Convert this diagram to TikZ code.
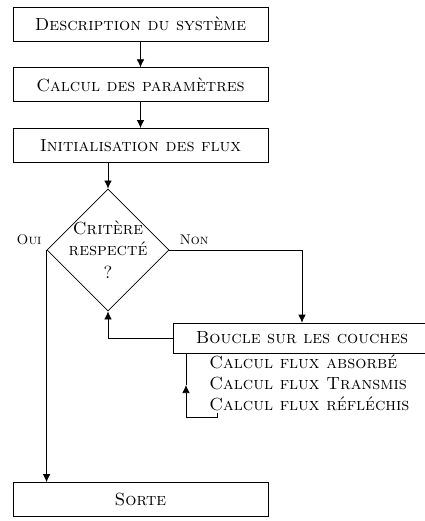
\documentclass[tikz,border=0pt]{standalone}
\usepackage{tikz}
\usetikzlibrary{arrows.meta,calc,positioning,shapes.geometric}

\begin{document}
\begin{tikzpicture}[
      font=\scshape,
      boite/.style={draw,minimum width=5.1cm,minimum height=0.68cm,align=center},
      losange/.style={draw,diamond,minimum width=2.38cm,minimum height=2.4cm,inner sep=-2pt,align=center},
      etiquette/.style={font=\footnotesize\scshape,inner sep=1pt},
      >={Latex[length=1.6mm,width=1.5mm]}
    ]
      \useasboundingbox (0,0) rectangle (8.5,-10.42);
      \node[boite] (desc) at (2.81,-0.48) {Description du système};
      \node[boite,below=0.52cm of desc] (param) {Calcul des paramètres};
      \node[boite,below=0.52cm of param] (init) {Initialisation des flux};
      \node[losange] (crit) at (2.16,-5.0) {Critère\\respecté\\[1pt]?};
      \node[boite,minimum width=5.16cm,minimum height=0.6cm] (boucle) at (6.04,-6.76) {Boucle sur les couches};
      \node[align=left,inner sep=0pt,anchor=north west] (etapes) at (4.18,-7.08)
        {Calcul flux absorbé\\Calcul flux Transmis\\Calcul flux réfléchis};
      \node[boite] (sorte) at (2.81,-9.99) {Sorte};
      \node[etiquette,above left=0.06cm and 0.06cm of crit.west] (oui) {Oui};
      \node[etiquette,above right=0.06cm and 0.16cm of crit.east] (non) {Non};
      % petite boucle sur les couches
      \coordinate (depart) at (4.34,-8.26);
      \coordinate (pointe) at (3.72,-7.70);
      \coordinate (haut) at (3.72,-7.06);
      \draw[->] (desc) -- (param);
      \draw[->] (param) -- (init);
      \draw[->] (init.south -| crit.north) -- (crit.north);
      \draw[->] (crit.west) -- (crit.west |- sorte.north);
      \draw[->] (crit.east) -| (boucle.north);
      \draw[->] (boucle.west) -| (crit.south);
      \draw[->] (depart) -- ++(0,-0.08) -| (pointe);
      \draw (pointe) -- (haut);
    \end{tikzpicture}
\end{document}
